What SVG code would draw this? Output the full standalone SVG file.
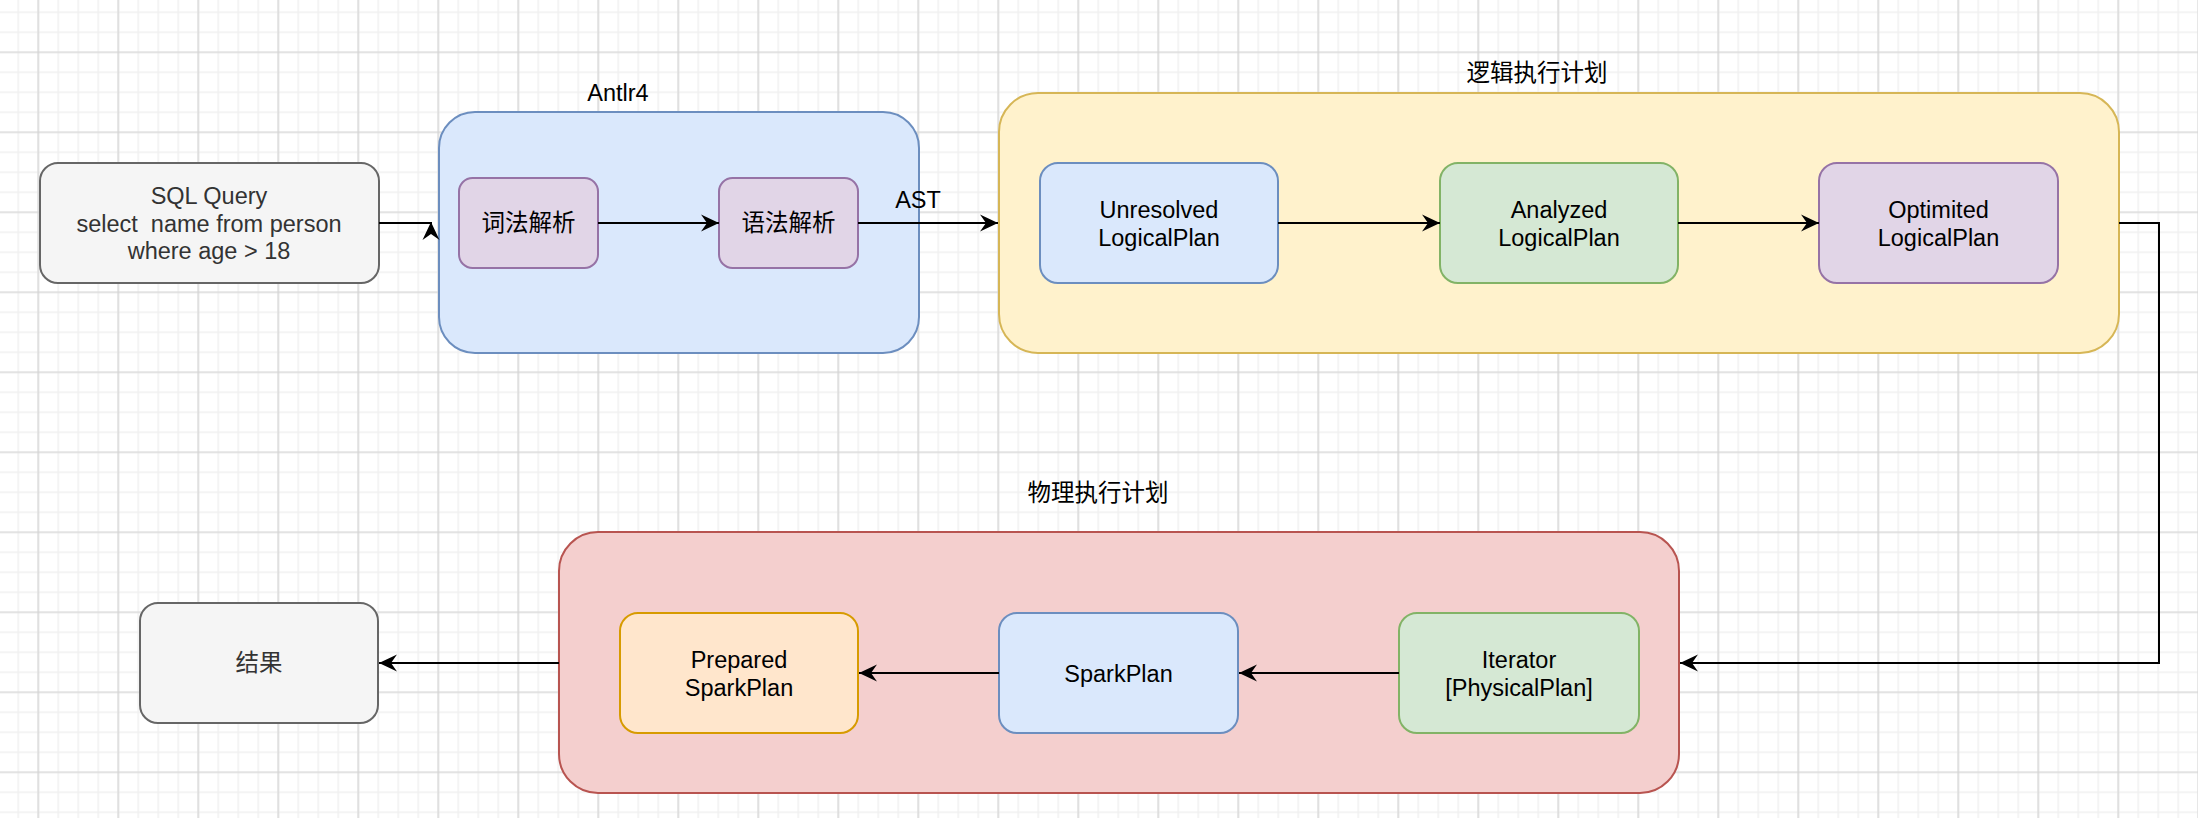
<svg xmlns="http://www.w3.org/2000/svg" width="2198" height="818" viewBox="0 0 2198 818">
<style>
  text { font-family: "Liberation Sans", "Noto Sans CJK SC", sans-serif; font-size: 23.5px; fill: #000; text-anchor: middle; }
  .dark { fill: #333333; }
  .grey { fill: #f5f5f5; stroke: #666666; stroke-width: 2; }
  .blue { fill: #dae8fc; stroke: #6c8ebf; stroke-width: 2; }
  .purple { fill: #e1d5e7; stroke: #9673a6; stroke-width: 2; }
  .yellow { fill: #fff2cc; stroke: #d6b656; stroke-width: 2; }
  .green { fill: #d5e8d4; stroke: #82b366; stroke-width: 2; }
  .red { fill: #f4cfce; stroke: #b85450; stroke-width: 2; }
  .orange { fill: #ffe6cc; stroke: #d79b00; stroke-width: 2; }
  .edge { fill: none; stroke: #000; stroke-width: 2; marker-end: url(#arr); }
</style>
<defs>
  <marker id="arr" markerUnits="userSpaceOnUse" markerWidth="20" markerHeight="20" viewBox="-19 -10 20 20" refX="0" refY="0" orient="auto">
    <path d="M0,0 L-18,-8.5 L-12,0 L-18,8.5 Z" fill="#000"/>
  </marker>
  <pattern id="minor" width="20" height="20" patternUnits="userSpaceOnUse" x="8.3" y="2.3">
    <path d="M10,0 V20 M0,10 H20" stroke="#f1f1f1" stroke-width="1.6" fill="none"/>
  </pattern>
  <pattern id="major" width="80" height="80" patternUnits="userSpaceOnUse" x="-1.7" y="12.3">
    <path d="M40,0 V80 M0,40 H80" stroke="#d2d2d2" stroke-width="1.2" fill="none"/>
  </pattern>
</defs>
<g id="background">
  <rect x="0" y="0" width="2198" height="818" fill="#ffffff"/>
  <rect x="0" y="0" width="2198" height="818" fill="url(#minor)"/>
  <rect x="0" y="0" width="2198" height="818" fill="url(#major)"/>
</g>

<g id="antlr4">
  <rect class="blue" x="439" y="112" width="480" height="241" rx="36" ry="36"/>
  <text x="618" y="101">Antlr4</text>
</g>
<g id="logical-plan">
  <rect class="yellow" x="999" y="93" width="1120" height="260" rx="39" ry="39"/>
  <text x="1537" y="81">逻辑执行计划</text>
</g>
<g id="physical-plan">
  <rect class="red" x="559" y="532" width="1120" height="261" rx="39" ry="39"/>
  <text x="1098" y="501">物理执行计划</text>
</g>

<g id="sql-query">
  <rect class="grey" x="40" y="163" width="339" height="120" rx="18" ry="18"/>
  <text class="dark" x="209" y="204.3">SQL Query</text>
  <text class="dark" x="209" y="231.7">select&#160; name from person</text>
  <text class="dark" x="209" y="259.3">where age &gt; 18</text>
</g>
<g id="lexer">
  <rect class="purple" x="459" y="178" width="139" height="90" rx="13.5" ry="13.5"/>
  <text x="528.5" y="231">词法解析</text>
</g>
<g id="parser">
  <rect class="purple" x="719" y="178" width="139" height="90" rx="13.5" ry="13.5"/>
  <text x="788.5" y="231">语法解析</text>
</g>
<g id="unresolved">
  <rect class="blue" x="1040" y="163" width="238" height="120" rx="18" ry="18"/>
  <text x="1159" y="218">Unresolved</text>
  <text x="1159" y="246.3">LogicalPlan</text>
</g>
<g id="analyzed">
  <rect class="green" x="1440" y="163" width="238" height="120" rx="18" ry="18"/>
  <text x="1559" y="218">Analyzed</text>
  <text x="1559" y="246.3">LogicalPlan</text>
</g>
<g id="optimited">
  <rect class="purple" x="1819" y="163" width="239" height="120" rx="18" ry="18"/>
  <text x="1938.5" y="218">Optimited</text>
  <text x="1938.5" y="246.3">LogicalPlan</text>
</g>
<g id="iterator">
  <rect class="green" x="1399" y="613" width="240" height="120" rx="18" ry="18"/>
  <text x="1519" y="667.7">Iterator</text>
  <text x="1519" y="695.7">[PhysicalPlan]</text>
</g>
<g id="sparkplan">
  <rect class="blue" x="999" y="613" width="239" height="120" rx="18" ry="18"/>
  <text x="1118.5" y="681.5">SparkPlan</text>
</g>
<g id="prepared">
  <rect class="orange" x="620" y="613" width="238" height="120" rx="18" ry="18"/>
  <text x="739" y="667.7">Prepared</text>
  <text x="739" y="695.7">SparkPlan</text>
</g>
<g id="result">
  <rect class="grey" x="140" y="603" width="238" height="120" rx="18" ry="18"/>
  <text class="dark" x="259" y="671">结果</text>
</g>

<g id="connectors">
  <path class="edge" d="M379,223 H431 M431,233 V222"/>
  <path class="edge" d="M598,223 H719"/>
  <path class="edge" d="M858,223 H998"/>
  <text x="918" y="207.6">AST</text>
  <path class="edge" d="M1278,223 H1440"/>
  <path class="edge" d="M1678,223 H1819"/>
  <path class="edge" d="M2119,223 H2159 V663 H1680"/>
  <path class="edge" d="M1399,673 H1239"/>
  <path class="edge" d="M999,673 H859"/>
  <path class="edge" d="M559,663 H379"/>
</g>
</svg>
